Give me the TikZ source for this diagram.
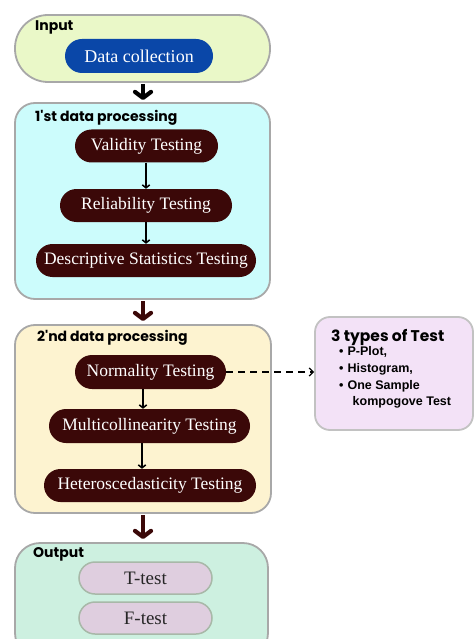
\documentclass[tikz,border=0pt]{standalone}
\usepackage{fontspec}
\usetikzlibrary{arrows.meta}
\setmainfont{Liberation Serif}
\newfontfamily\headfont{Poppins}
\newfontfamily\listfont{Liberation Sans}
\definecolor{inputfill}{HTML}{EAF8C8}
\definecolor{framegray}{HTML}{A8A8A8}
\definecolor{dcblue}{HTML}{0A47A8}
\definecolor{cyanfill}{HTML}{CCFCFC}
\definecolor{maroon}{HTML}{3B0808}
\definecolor{yellowfill}{HTML}{FDF3D0}
\definecolor{lavfill}{HTML}{F3E2F7}
\definecolor{mintfill}{HTML}{CDF0E0}
\definecolor{mauvefill}{HTML}{DFCEDF}
\definecolor{mauveline}{HTML}{A8B8A8}
\tikzset{
  group/.style={draw=framegray, line width=1.8pt, rectangle, inner sep=0pt},
  pill/.style={rectangle, rounded corners=16.5pt, inner sep=0pt, minimum height=33pt,
    font=\fontsize{17.5}{19}\selectfont},
  darkpill/.style={pill, fill=maroon, text=white},
  grouplabel/.style={anchor=west, inner sep=0pt, font=\headfont\bfseries\fontsize{14}{16}\selectfont},
  bigarrow/.style={line width=4.2pt, -{Straight Barb[length=6pt, width=16pt, round]}},
  smallarrow/.style={line width=1.5pt, -{Straight Barb[length=3pt, width=7.5pt]}},
  listline/.style={anchor=west, inner sep=0pt, font=\listfont\bfseries\fontsize{12.5}{14}\selectfont},
}
\begin{document}
\begin{tikzpicture}[x=1pt, y=-1pt]
\useasboundingbox (0,0) rectangle (474,639);
\begin{scope}
\clip (0,0) rectangle (474,639);
% Input
\node[group, fill=inputfill, rounded corners=33pt, minimum width=255pt, minimum height=67pt] (inbox) at (142.5,48.5) {};
\node[grouplabel] (inlabel) at (35,27) {Input};
\node[pill, fill=dcblue, text=white, minimum width=148pt, minimum height=34pt, rounded corners=17pt, font=\fontsize{18}{20}\selectfont] (data) at (139,56) {Data collection};
% Box 1
\node[group, fill=cyanfill, rounded corners=20pt, minimum width=255pt, minimum height=196pt] (box1) at (142.5,201) {};
\node[grouplabel] (b1label) at (35,118) {1'st data processing};
\node[darkpill, minimum width=143pt] (val) at (146.5,146) {Validity Testing};
\node[darkpill, minimum width=172pt] (rel) at (146,205.5) {Reliability Testing};
\node[darkpill, minimum width=220pt] (desc) at (146,260.5) {Descriptive Statistics Testing};
% Box 2
\node[group, fill=yellowfill, rounded corners=20pt, minimum width=256pt, minimum height=188pt] (box2) at (143,419) {};
\node[grouplabel] (b2label) at (37,338) {2'nd data processing};
\node[darkpill, minimum width=151pt, minimum height=34pt, rounded corners=17pt] (norm) at (150.5,372) {Normality Testing};
\node[darkpill, minimum width=201pt, minimum height=34pt, rounded corners=17pt] (multi) at (149.5,426) {Multicollinearity Testing};
\node[darkpill, minimum width=212pt] (het) at (150,485.5) {Heteroscedasticity Testing};
% Box 3
\node[draw=framegray!70, line width=1.8pt, fill=lavfill, rounded corners=15pt, minimum width=158pt, minimum height=113pt, inner sep=0pt] (box3) at (394,373.5) {};
\node[anchor=west, inner sep=0pt, font=\headfont\bfseries\fontsize{15.5}{17}\selectfont] (b3title) at (331,337) {3 types of Test};
\node[listline] (l1) at (339,352) {\textbullet\hspace{4pt}P-Plot,};
\node[listline] (l2) at (339,369) {\textbullet\hspace{4pt}Histogram,};
\node[listline] (l3) at (339,386) {\textbullet\hspace{4pt}One Sample};
\node[listline] (l4) at (352.5,402.5) {kompogove Test};
% Output
\node[group, fill=mintfill, rounded corners=25pt, minimum width=253pt, minimum height=115pt] (outbox) at (141.5,600.5) {};
\node[grouplabel] (outlabel) at (33,554) {Output};
\node[pill, fill=mauvefill, draw=mauveline, line width=1.5pt, text=black!85, minimum width=133pt, minimum height=32pt, rounded corners=16pt, font=\fontsize{19}{21}\selectfont] (ttest) at (145.5,578) {T-test};
\node[pill, fill=mauvefill, draw=mauveline, line width=1.5pt, text=black!85, minimum width=133pt, minimum height=32pt, rounded corners=16pt, font=\fontsize{19}{21}\selectfont] (ftest) at (145.5,618) {F-test};
% Arrows
\draw[bigarrow, black] (143,84) coordinate (a1s) -- (143,100) coordinate (a1e);
\draw[bigarrow, maroon] (143,301) coordinate (a2s) -- (143,321) coordinate (a2e);
\draw[bigarrow, maroon] (143,515) coordinate (a3s) -- (143,539) coordinate (a3e);
\draw[smallarrow] (val.south -| 146,0) -- (rel.north -| 146,0);
\draw[smallarrow] (rel.south -| 146,0) -- (desc.north -| 146,0);
\draw[smallarrow] (norm.south -| 143,0) -- (multi.north -| 143,0);
\draw[smallarrow] (multi.south -| 142,0) -- (het.north -| 142,0);
\draw[line width=1.3pt, dash pattern=on 7pt off 5pt, -{Straight Barb[length=4pt, width=8pt]}] (norm.east) -- (norm.east -| box3.west);
\end{scope}
\end{tikzpicture}
\end{document}
